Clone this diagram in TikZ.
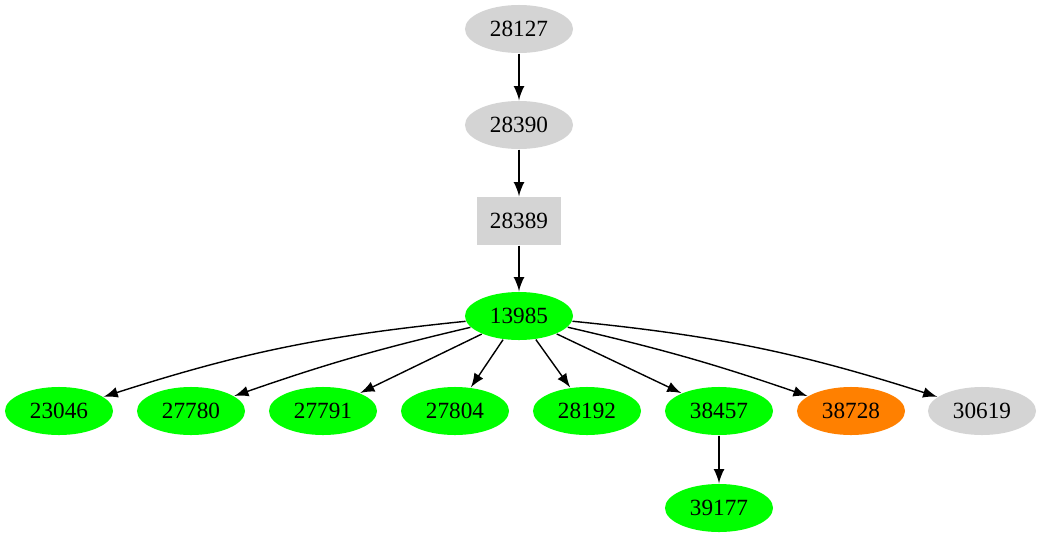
\documentclass[tikz,border=0pt]{standalone}
\usepackage{fontspec}
\setmainfont{Liberation Serif}
\usetikzlibrary{arrows,shapes.geometric}

\begin{document}
\begin{tikzpicture}%
        [x=0.01cm, y=-0.01cm,
        font=\fontsize{6.6}{8}\selectfont,
        oval/.style={ellipse, inner sep=0pt, minimum width=1.08cm, minimum height=0.48cm},
        grey/.style={oval, fill=black!17},
        green/.style={oval, fill=green},
        orange/.style={oval, fill=orange},
        box/.style={rectangle, fill=black!17, minimum width=0.84cm, minimum height=0.48cm},
        edge/.style={-latex, thin}]

    \useasboundingbox (0,0) rectangle (1042,539);
    %% Drawing the chain
    \node[grey] (n28127) at (519,29) {28127};
    \node[grey] (n28390) at (519,125) {28390};
    \node[box] (n28389) at (519,221) {28389};
    \node[green] (n13985) at (519,316) {13985};
    %% Drawing the children
    \node[green] (n23046) at (59,411) {23046};
    \node[green] (n27780) at (191,411) {27780};
    \node[green] (n27791) at (323,411) {27791};
    \node[green] (n27804) at (455,411) {27804};
    \node[green] (n28192) at (587,411) {28192};
    \node[green] (n38457) at (719,411) {38457};
    \node[orange] (n38728) at (851,411) {38728};
    \node[grey] (n30619) at (982,411) {30619};
    \node[green] (n39177) at (719,508) {39177};
    %% Drawing the edges
    \draw[edge] (n28127) -- (n28390);
    \draw[edge] (n28390) -- (n28389);
    \draw[edge] (n28389) -- (n13985);
    \draw[edge] (n13985) to[bend right=6] (n23046);
    \draw[edge] (n13985) to[bend right=3] (n27780);
    \draw[edge] (n13985) -- (n27791);
    \draw[edge] (n13985) -- (n27804);
    \draw[edge] (n13985) -- (n28192);
    \draw[edge] (n13985) -- (n38457);
    \draw[edge] (n13985) to[bend left=3] (n38728);
    \draw[edge] (n13985) to[bend left=6] (n30619);
    \draw[edge] (n38457) -- (n39177);
    %%
\end{tikzpicture}
\end{document}
